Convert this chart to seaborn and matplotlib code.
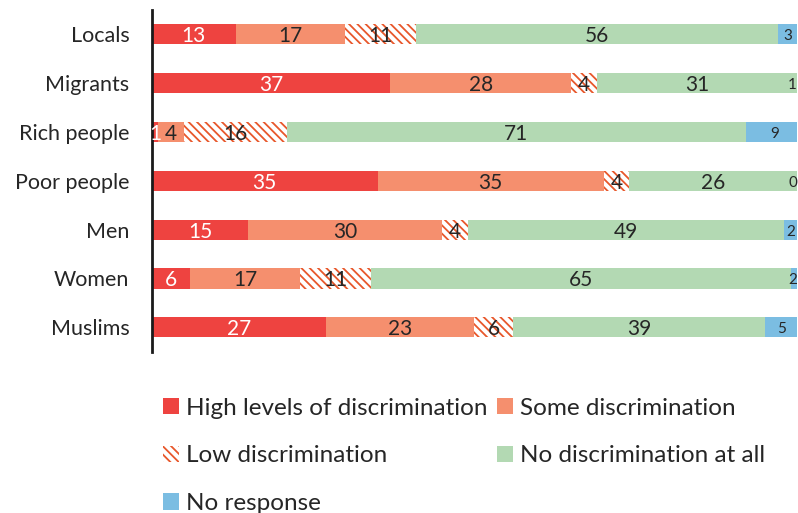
import numpy as np
import pandas as pd
import matplotlib
matplotlib.use("Agg")
import matplotlib.pyplot as plt
import matplotlib.patches as mpatches
import seaborn as sns

# data
groups = ["Locals", "Migrants", "Rich people", "Poor people", "Men", "Women", "Muslims"]
categories = ["High levels of discrimination", "Some discrimination", "Low discrimination",
              "No discrimination at all", "No response"]
high = [13, 37, 1, 35, 15, 6, 27]
some = [17, 28, 4, 35, 30, 17, 23]
low = [11, 4, 16, 4, 4, 11, 6]
none_at_all = [56, 31, 71, 26, 49, 65, 39]
no_resp = [3, 1, 9, 0, 2, 2, 5]

colors = ["#EE4340", "#F58F6E", "#E8572B", "#B3D9B3", "#7BBDE2"]

sns.set_theme(style="white")
plt.rcParams["font.family"] = ["Lato", "DejaVu Sans"]
plt.rcParams["hatch.linewidth"] = 1.3

df = pd.DataFrame({"group": groups, "high": high, "some": some, "low": low,
                   "none": none_at_all, "noresp": no_resp})
cols = ["high", "some", "low", "none", "noresp"]
cum = df[cols].cumsum(axis=1)

fig = plt.figure(figsize=(7.98, 5.13), dpi=100)
ax = fig.add_axes([0.19, 0.314, 0.809, 0.666])

# draw cumulative bars from the longest to the shortest so they stack
for i in reversed(range(len(cols))):
    kw = dict(color=colors[i], linewidth=0)
    if cols[i] == "low":
        kw = dict(color="white", edgecolor=colors[i], hatch="\\\\\\\\", linewidth=0)
    sns.barplot(data=cum.assign(group=groups), y="group", x=cols[i], orient="h",
                width=0.41, ax=ax, saturation=1, **kw)

# segment labels
for j in range(len(groups)):
    start = 0
    for i, c in enumerate(cols):
        v = df[c][j]
        mid = start + v / 2
        if c == "noresp":
            mid = min(mid, 99.3)
        ax.text(mid, j + 0.04, str(v), ha="center", va="center",
                color="white" if c == "high" else "#262626",
                fontsize=15 if c != "noresp" else 11, clip_on=False)
        start += v

ax.set_xlim(0, 100)
ax.set_ylim(6.5, -0.48)
ax.set_xlabel("")
ax.set_ylabel("")
ax.set_xticks([])
ax.tick_params(axis="y", labelsize=15.5, length=0, pad=16, colors="#262626")
for s in ["top", "right", "bottom"]:
    ax.spines[s].set_visible(False)
ax.spines["left"].set_color("#1a1a1a")
ax.spines["left"].set_linewidth(2)

handles = []
for i, c in enumerate(categories):
    if i == 2:
        h = mpatches.Patch(facecolor="white", edgecolor=colors[i], hatch="\\\\\\\\", linewidth=0, label=c)
    else:
        h = mpatches.Patch(facecolor=colors[i], linewidth=0, label=c)
    handles.append(h)
order = [0, 2, 4, 1, 3]
fig.legend([handles[k] for k in order], [categories[k] for k in order],
           ncol=2, loc="upper left", bbox_to_anchor=(0.204, 0.225), frameon=False,
           fontsize=17.5, handlelength=0.65, handleheight=0.65, handletextpad=0.3,
           labelspacing=1.1, columnspacing=0.4, borderaxespad=0, borderpad=0,
           labelcolor="#262626")

fig.savefig("out.png", dpi=100)
